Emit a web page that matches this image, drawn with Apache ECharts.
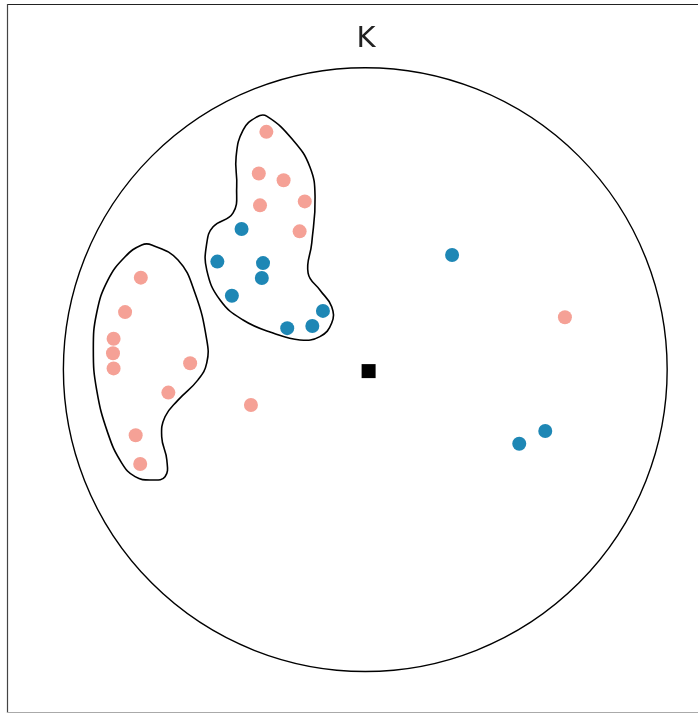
<!DOCTYPE html>
<html>
<head>
<meta charset="utf-8">
<script src="https://cdn.jsdelivr.net/npm/echarts@6/dist/echarts.min.js"></script>
<style>
html, body { margin: 0; padding: 0; background: #fff; }
#main { width: 698px; height: 713px; }
</style>
</head>
<body>
<div id="main"></div>
<script>
// unit coordinates (centre square at 0,0)
var pinkPoints = [
    [-0.336, 0.789], [-0.361, 0.651], [-0.279, 0.629], [-0.357, 0.546], [-0.209, 0.559], [-0.226, 0.460],
    [-0.751, 0.307], [-0.803, 0.193], [-0.841, 0.105], [-0.843, 0.057], [-0.841, 0.007], [-0.588, 0.024],
    [-0.660, -0.073], [-0.768, -0.214], [-0.753, -0.309],
    [-0.387, -0.114], [0.651, 0.176]
];
var bluePoints = [
    [-0.418, 0.468], [-0.498, 0.360], [-0.347, 0.355], [-0.351, 0.306], [-0.450, 0.247],
    [-0.149, 0.197], [-0.184, 0.147], [-0.267, 0.140],
    [0.278, 0.382], [0.586, -0.200], [0.500, -0.242]
];
var centrePoint = [[0.002, -0.002]];
// outer circle: centre x, centre y, radius
var outerCircle = [[-0.009, 0.003, 0.998]];

var blobUpper = [
    [-0.335, 0.841], [-0.248, 0.762], [-0.192, 0.673], [-0.175, 0.574], [-0.186, 0.421], [-0.198, 0.322],
    [-0.159, 0.266], [-0.120, 0.211], [-0.120, 0.157], [-0.159, 0.112], [-0.225, 0.101], [-0.314, 0.124],
    [-0.413, 0.167], [-0.489, 0.233], [-0.533, 0.332], [-0.533, 0.421], [-0.512, 0.475], [-0.446, 0.521],
    [-0.434, 0.608], [-0.436, 0.707], [-0.413, 0.795], [-0.368, 0.838]
];
var blobLeft = [
    [-0.715, 0.415], [-0.628, 0.365], [-0.572, 0.256], [-0.533, 0.101], [-0.533, 0.025], [-0.562, -0.031],
    [-0.628, -0.098], [-0.671, -0.153], [-0.682, -0.219], [-0.665, -0.296], [-0.671, -0.351], [-0.715, -0.362],
    [-0.770, -0.351], [-0.814, -0.306], [-0.860, -0.207], [-0.897, -0.064], [-0.908, 0.068], [-0.897, 0.190],
    [-0.860, 0.299], [-0.803, 0.376], [-0.748, 0.415]
];
var blobs = [blobUpper, blobLeft];

var myChart = echarts.init(document.getElementById('main'));
var option = {
    backgroundColor: '#fff',
    animation: false,
    grid: {left: 65.5, top: 68, width: 605, height: 605},
    xAxis: {type: 'value', min: -1, max: 1, show: false},
    yAxis: {type: 'value', min: -1, max: 1, show: false},
    graphic: [
        {type: 'line', shape: {x1: 7, y1: 4.5, x2: 698, y2: 4.5}, style: {stroke: '#222', lineWidth: 1.2}},
        {type: 'line', shape: {x1: 7.5, y1: 4, x2: 7.5, y2: 713}, style: {stroke: '#444', lineWidth: 1.2}},
        {type: 'line', shape: {x1: 7, y1: 712.5, x2: 698, y2: 712.5}, style: {stroke: '#aaa', lineWidth: 1.2}},
        {
            type: 'text', x: 366, y: 39,
            style: {
                text: 'K', fill: '#222', font: '29px "DejaVu Sans"',
                textAlign: 'center', textVerticalAlign: 'middle'
            }
        }
    ],
    series: [
        {
            type: 'custom',
            data: outerCircle,
            silent: true,
            z: 1,
            renderItem: function (params, api) {
                var c = api.coord([api.value(0), api.value(1)]);
                var s = api.size([api.value(2), api.value(2)]);
                return {
                    type: 'circle',
                    shape: {cx: c[0], cy: c[1], r: s[0]},
                    style: {fill: 'none', stroke: '#000', lineWidth: 1.4}
                };
            }
        },
        {
            type: 'custom',
            data: [0, 1],
            silent: true,
            z: 2,
            renderItem: function (params, api) {
                var pts = blobs[params.dataIndex].map(function (p) { return api.coord(p); });
                return {
                    type: 'polygon',
                    shape: {points: pts, smooth: 0.45},
                    style: {fill: 'none', stroke: '#000', lineWidth: 1.6}
                };
            }
        },
        {
            type: 'scatter',
            data: pinkPoints,
            symbolSize: 14,
            z: 3,
            itemStyle: {color: '#f5a196', opacity: 1}
        },
        {
            type: 'scatter',
            data: bluePoints,
            symbolSize: 14,
            z: 3,
            itemStyle: {color: '#1e87b5', opacity: 1}
        },
        {
            type: 'scatter',
            data: centrePoint,
            symbol: 'rect',
            symbolSize: 14,
            z: 3,
            itemStyle: {color: '#000', opacity: 1}
        }
    ]
};
myChart.setOption(option);
</script>
</body>
</html>
